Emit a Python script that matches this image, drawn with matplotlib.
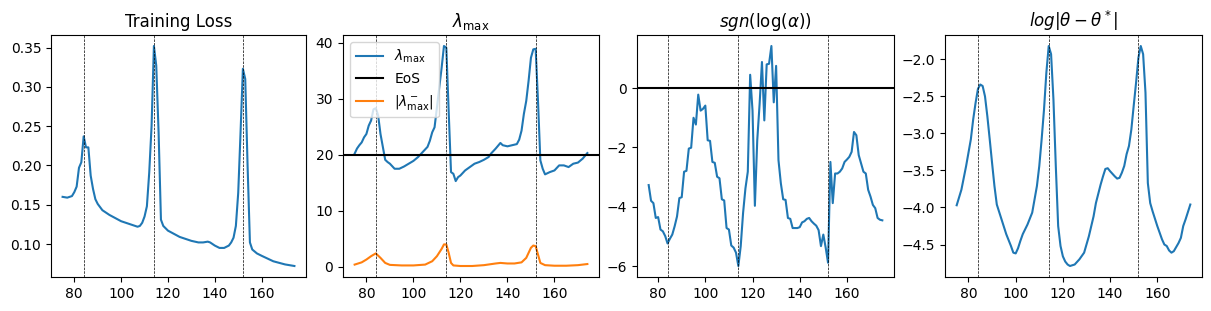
import matplotlib
matplotlib.use("Agg")
import matplotlib.pyplot as plt

# vertical markers (steps of the spikes)
spike_steps = [84, 114, 152]

# training loss
loss_x = [75, 77, 79, 80, 81, 82, 83, 84, 85, 86, 87, 88, 89, 90, 92, 95, 100, 105, 107, 108,
          109, 110, 111, 112, 113, 114, 115, 116, 117, 118, 120, 125, 130, 133, 135, 137, 138,
          140, 142, 144, 146, 147, 148, 149, 150, 151, 152, 153, 154, 155, 156, 158, 160, 165,
          170, 174]
loss_y = [0.160, 0.159, 0.161, 0.166, 0.173, 0.197, 0.204, 0.237, 0.223, 0.223, 0.187, 0.170,
          0.157, 0.151, 0.143, 0.137, 0.129, 0.124, 0.122, 0.123, 0.127, 0.135, 0.148, 0.191,
          0.250, 0.352, 0.327, 0.242, 0.131, 0.123, 0.117, 0.109, 0.104, 0.102, 0.102, 0.103,
          0.102, 0.098, 0.095, 0.095, 0.098, 0.102, 0.108, 0.123, 0.165, 0.242, 0.323, 0.310,
          0.200, 0.102, 0.093, 0.088, 0.085, 0.078, 0.074, 0.072]

# sharpness
lam_x = [75, 76, 77, 78, 79, 80, 81, 82, 83, 84, 85, 86, 87, 88, 89, 90, 92, 94, 96, 98, 100,
         102, 104, 106, 107, 108, 109, 110, 111, 112, 113, 114, 115, 116, 117, 118, 119, 120,
         122, 124, 126, 128, 130, 132, 133, 135, 137, 138, 140, 142, 144, 145, 146, 147, 148,
         149, 150, 151, 152, 153, 154, 155, 156, 158, 160, 162, 164, 166, 168, 170, 172, 174]
lam_max = [20.2, 21.1, 21.7, 22.2, 23.1, 23.7, 25.2, 26.1, 28.1, 28.3, 27.0, 23.7, 21.4, 19.1,
           18.7, 18.4, 17.5, 17.5, 17.9, 18.4, 18.9, 19.6, 20.5, 21.4, 22.5, 24.0, 24.9, 28.4,
           32.0, 35.5, 39.4, 39.1, 27.8, 16.9, 16.6, 15.3, 16.0, 16.3, 17.2, 17.8, 18.4, 18.7,
           19.1, 19.6, 20.2, 21.1, 22.1, 21.7, 21.5, 21.7, 21.9, 22.7, 24.3, 27.3, 29.6, 33.2,
           37.3, 38.8, 38.9, 29.6, 19.0, 17.5, 16.5, 16.9, 17.2, 18.1, 18.1, 17.8, 18.4, 18.6,
           19.3, 20.3]
eos = 20

neg_x = [75, 78, 80, 82, 84, 86, 88, 90, 95, 100, 105, 108, 110, 112, 113, 114, 115, 116, 117,
         120, 125, 130, 135, 137, 140, 143, 146, 148, 150, 151, 152, 153, 154, 156, 160, 165,
         170, 174]
lam_neg = [0.4, 0.8, 1.3, 1.9, 2.4, 1.6, 0.7, 0.35, 0.25, 0.25, 0.4, 1.0, 1.9, 3.2, 4.0, 4.0,
           2.5, 0.7, 0.25, 0.15, 0.15, 0.3, 0.6, 0.7, 0.6, 0.6, 0.8, 1.6, 3.4, 3.8, 3.7, 2.2,
           0.7, 0.3, 0.2, 0.2, 0.3, 0.5]

# sgn(log(alpha)), one value per step from 76 to 175
alpha_x = list(range(76, 176))
alpha_y = [-3.27, -3.80, -3.88, -4.38, -4.35, -4.77, -4.83, -4.99, -5.24, -5.08,
           -4.94, -4.66, -4.33, -3.71, -3.68, -2.82, -2.79, -2.04, -2.01, -1.00,
           -1.23, -0.22, -0.76, -0.70, -0.59, -1.76, -1.78, -2.49, -2.52, -2.99,
           -3.04, -3.75, -3.79, -4.72, -4.77, -5.31, -5.38, -5.55, -6.00, -5.33,
           -4.21, -3.38, -2.82, 0.45, -0.76, -3.97, -1.76, -0.54, 0.88, -1.09,
           0.80, 0.82, 1.42, -0.48, 0.75, -2.43, -3.21, -3.75, -3.77, -4.38,
           -4.41, -4.72, -4.72, -4.72, -4.69, -4.53, -4.49, -4.41, -4.38, -4.49,
           -4.57, -4.64, -4.79, -5.33, -4.94, -5.38, -5.89, -2.49, -3.88, -2.88,
           -2.88, -2.82, -2.71, -2.49, -2.41, -2.32, -2.15, -1.48, -1.59, -2.26,
           -2.54, -2.82, -2.88, -3.43, -3.66, -3.94, -4.05, -4.38, -4.44, -4.46]

# log distance to the minimum
dist_x = [75, 77, 79, 81, 82, 83, 84, 85, 86, 87, 88, 89, 90, 91, 92, 94, 96, 98, 99, 100, 101,
          102, 103, 105, 107, 108, 109, 110, 111, 112, 113, 114, 115, 116, 117, 118, 119, 120,
          121, 122, 123, 125, 127, 129, 131, 133, 134, 136, 137, 138, 139, 140, 142, 143, 144,
          145, 146, 147, 148, 149, 150, 151, 152, 153, 154, 155, 156, 157, 158, 160, 162, 163,
          164, 165, 166, 167, 169, 170, 171, 172, 174]
dist_y = [-3.97, -3.76, -3.44, -3.08, -2.81, -2.59, -2.40, -2.34, -2.36, -2.50, -2.77, -3.08,
          -3.40, -3.71, -3.96, -4.16, -4.36, -4.52, -4.61, -4.62, -4.55, -4.45, -4.36, -4.23,
          -4.07, -3.89, -3.71, -3.44, -3.08, -2.68, -2.18, -1.82, -1.93, -2.54, -3.44, -4.25,
          -4.52, -4.66, -4.73, -4.77, -4.79, -4.77, -4.70, -4.61, -4.39, -4.12, -3.94, -3.69,
          -3.58, -3.48, -3.47, -3.51, -3.58, -3.61, -3.60, -3.53, -3.44, -3.28, -3.17, -2.95,
          -2.63, -2.32, -1.98, -1.82, -1.93, -2.45, -3.67, -3.94, -4.05, -4.25, -4.43, -4.50,
          -4.52, -4.58, -4.61, -4.59, -4.48, -4.41, -4.25, -4.16, -3.96]

fig, axes = plt.subplots(1, 4, figsize=(12.11, 3.11), dpi=100)
positions = [
    [51 / 1211, 34 / 311, 255 / 1211, 242 / 311],
    [343 / 1211, 34 / 311, 256 / 1211, 242 / 311],
    [637 / 1211, 34 / 311, 257 / 1211, 242 / 311],
    [945 / 1211, 34 / 311, 257 / 1211, 242 / 311],
]
for ax, pos in zip(axes, positions):
    ax.set_position(pos)

ax1, ax2, ax3, ax4 = axes

ax1.plot(loss_x, loss_y)
ax1.set_title('Training Loss')

ax2.plot(lam_x, lam_max, label=r'$\lambda_{\max}$')
ax2.axhline(eos, color='black', linewidth=1.5, label='EoS')
ax2.plot(neg_x, lam_neg, label=r'$|\lambda^-_{\max}|$')
ax2.set_title(r'$\lambda_{\max}$')
ax2.legend(loc='upper left')

ax3.plot(alpha_x, alpha_y)
ax3.axhline(0, color='black', linewidth=1.5)
ax3.set_title(r'$sgn(\log(\alpha))$')

ax4.plot(dist_x, dist_y)
ax4.set_title(r'$log|\theta - \theta^*|$')

for ax in axes:
    for s in spike_steps:
        ax.axvline(s, color='black', linestyle='--', linewidth=0.5)
    ax.set_xticks([80, 100, 120, 140, 160])

plt.savefig('out.png', dpi=100)
